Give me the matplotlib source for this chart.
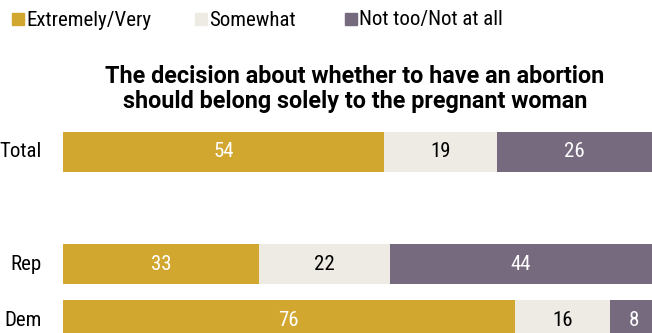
import numpy as np
import matplotlib
matplotlib.use('Agg')
import matplotlib.pyplot as plt
from matplotlib.patches import Rectangle

# --- Data
groups   = ['Total', 'Rep', 'Dem']
ypos     = [0, 2, 3]
answers  = ['Extremely/Very', 'Somewhat', 'Not too/Not at all']
values   = {'Extremely/Very':     [54, 33, 76],
            'Somewhat':           [19, 22, 16],
            'Not too/Not at all': [26, 44, 8]}
title    = 'The decision about whether to have an abortion\nshould belong solely to the pregnant woman'

# --- Style
colors     = ['#D2A72F', '#EDEBE4', '#766A7E']
txtcolors  = ['white', 'black', 'white']
plt.rcParams['font.family'] = ['Roboto Condensed', 'DejaVu Sans']
fs = 15

W, H = 652, 333
fig = plt.figure(figsize=(W/100, H/100), dpi=100)
ax = fig.add_axes([63/W, 0, 1-63/W, 1])
ax.set_xlim(0, (W-63)/5.945)
ax.set_ylim((H-152)/56, -152/56)
ax.axis('off')

left = np.zeros(len(groups))
for i, (a, c, tc) in enumerate(zip(answers, colors, txtcolors)):
    v = np.array(values[a])
    ax.barh(ypos, v, left=left, height=0.7, color=c, edgecolor='none')
    for y, l, w in zip(ypos, left, v):
        ax.text(l + w/2, y, str(w), ha='center', va='center', color=tc, fontsize=fs)
    left += v

for g, y in zip(groups, ypos):
    ax.text(42/W, 1 - (152 + 56*y)/H, g, transform=fig.transFigure, ha='right', va='center', fontsize=fs)

fig.text(355/W, 1 - 89/H, title, ha='center', va='center', fontsize=16.8, fontweight='bold',
         linespacing=1.12, family=['Roboto', 'DejaVu Sans'])

# --- Legend
for a, c, xs in zip(answers, colors, [12, 195, 345]):
    fig.patches.append(Rectangle((xs/W, 1 - 25/H), 12/W, 12/H, transform=fig.transFigure, color=c))
    fig.text((xs+14)/W, 1 - 20/H, a, ha='left', va='center', fontsize=fs)

fig.savefig('out.png', dpi=100)
